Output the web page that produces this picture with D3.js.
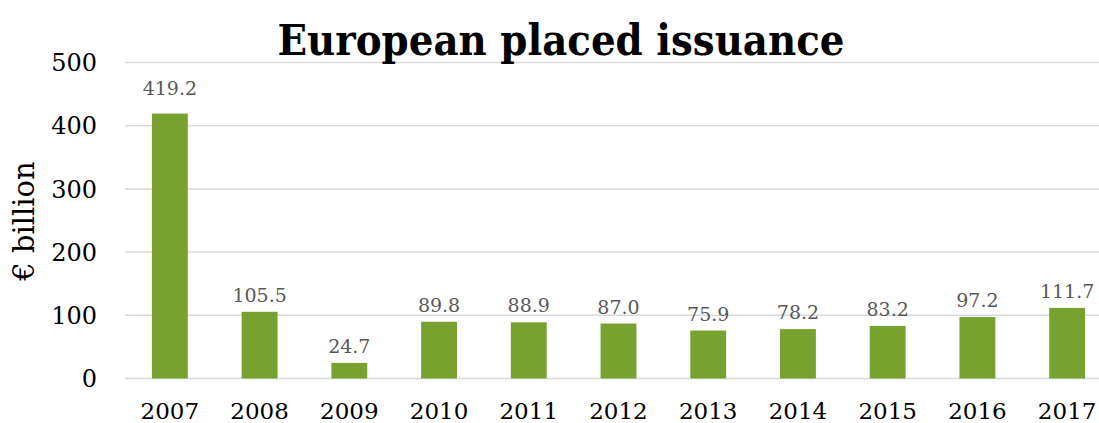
<!DOCTYPE html>
<html>
<head>
<meta charset="utf-8">
<script src="https://cdn.jsdelivr.net/npm/d3@7"></script>
<style>
  body { margin: 0; background: #fff; }
  svg text { font-family: "DejaVu Serif", "Liberation Serif", serif; }
</style>
</head>
<body>
<div id="grafico"></div>
<script>
// Datos del grafico
var years = ["2007", "2008", "2009", "2010", "2011", "2012", "2013", "2014", "2015", "2016", "2017"];
var issuance = [419.2, 105.5, 24.7, 89.8, 88.9, 87.0, 75.9, 78.2, 83.2, 97.2, 111.7];
var yTicks = [0, 100, 200, 300, 400, 500];

var width = 1099;
var height = 423;

var svg = d3.select("#grafico")
    .append("svg")
    .attr("width", width)
    .attr("height", height);

// Escalas
var x = d3.scaleBand()
    .domain(years)
    .range([125, 1112])
    .paddingInner(0.6)
    .paddingOuter(0.3);

var y = d3.scaleLinear()
    .domain([0, 500])
    .range([378.5, 62.5]);

// Lineas de la cuadricula
svg.selectAll("line.grid")
    .data(yTicks)
    .enter()
    .append("line")
    .attr("class", "grid")
    .attr("x1", 125)
    .attr("x2", width)
    .attr("y1", function(d) { return y(d); })
    .attr("y2", function(d) { return y(d); })
    .attr("stroke", "#d9d9d9")
    .attr("stroke-width", 1.5);

// Etiquetas del eje y
svg.selectAll("text.ytick")
    .data(yTicks)
    .enter()
    .append("text")
    .attr("class", "ytick")
    .attr("x", 97)
    .attr("y", function(d) { return y(d); })
    .attr("dy", "0.36em")
    .attr("text-anchor", "end")
    .attr("font-size", 24)
    .attr("fill", "#000")
    .text(function(d) { return d; });

// Barras
svg.selectAll("rect.bar")
    .data(issuance)
    .enter()
    .append("rect")
    .attr("class", "bar")
    .attr("x", function(d, i) { return x(years[i]); })
    .attr("width", x.bandwidth())
    .attr("y", function(d) { return y(d); })
    .attr("height", function(d) { return y(0) - y(d); })
    .attr("fill", "#78a22f");

// Valores encima de las barras
svg.selectAll("text.valor")
    .data(issuance)
    .enter()
    .append("text")
    .attr("class", "valor")
    .attr("x", function(d, i) { return x(years[i]) + x.bandwidth() / 2; })
    .attr("y", function(d, i) { return y(d) - (i === 0 ? 19 : 10); })
    .attr("text-anchor", "middle")
    .attr("font-size", 19)
    .attr("fill", "#595959")
    .text(function(d) { return d.toFixed(1); });

// Etiquetas del eje x
svg.selectAll("text.xtick")
    .data(years)
    .enter()
    .append("text")
    .attr("class", "xtick")
    .attr("x", function(d) { return x(d) + x.bandwidth() / 2; })
    .attr("y", 419)
    .attr("text-anchor", "middle")
    .attr("font-size", 23)
    .attr("fill", "#000")
    .text(function(d) { return d; });

// Titulo del eje y
svg.append("text")
    .attr("transform", "translate(34,221) rotate(-90)")
    .attr("text-anchor", "middle")
    .attr("font-size", 29)
    .attr("fill", "#000")
    .text("€ billion");

// Titulo
svg.append("text")
    .attr("x", 561)
    .attr("y", 55)
    .attr("text-anchor", "middle")
    .attr("font-size", 42)
    .attr("font-weight", "bold")
    .attr("textLength", 567)
    .attr("lengthAdjust", "spacingAndGlyphs")
    .attr("fill", "#000")
    .text("European placed issuance");
</script>
</body>
</html>
